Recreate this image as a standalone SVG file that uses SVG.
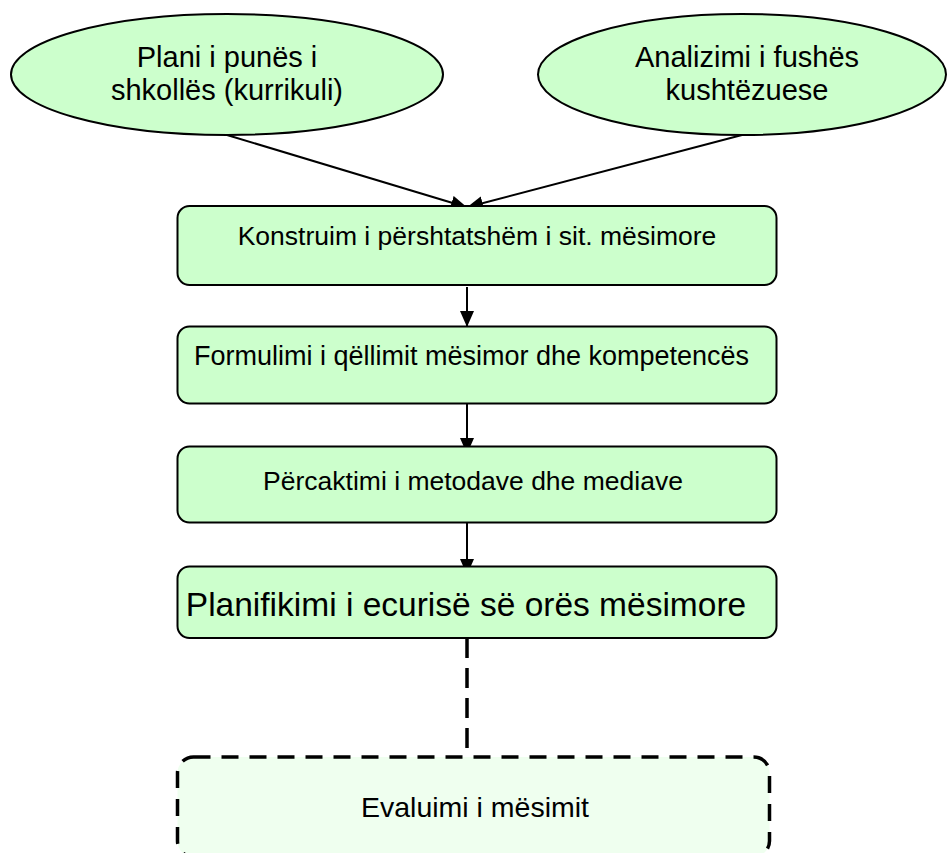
<svg xmlns="http://www.w3.org/2000/svg" width="949" height="853" viewBox="0 0 949 853">
<style>
.n{fill:#CCFFCC;stroke:#000;stroke-width:2}
.t{font-family:"Liberation Sans",Arial,sans-serif;fill:#000;text-anchor:middle}
.c{stroke:#000;stroke-width:2;fill:none}
.d{stroke:#000;stroke-width:3.5;fill:none;stroke-dasharray:17 11}
</style>
<defs>
<marker id="ah" markerWidth="16" markerHeight="14" refX="15" refY="7" orient="auto" markerUnits="userSpaceOnUse">
<path d="M0,0 L16,7 L0,14 z" fill="#000"/>
</marker>
</defs>
<rect width="949" height="853" fill="#fff"/>
<g id="connectors">
<line class="c" x1="227" y1="135" x2="466" y2="207" marker-end="url(#ah)"/>
<line class="c" x1="742" y1="135" x2="468" y2="207" marker-end="url(#ah)"/>
<line class="c" x1="467" y1="287" x2="467" y2="326" marker-end="url(#ah)"/>
<line class="c" x1="467" y1="398" x2="467" y2="453" marker-end="url(#ah)"/>
<line class="c" x1="467" y1="517" x2="467" y2="574" marker-end="url(#ah)"/>
<line class="d" x1="467" y1="638" x2="467" y2="770" style="stroke-dasharray:20 10"/>
</g>
<g id="n1">
<ellipse class="n" cx="227" cy="74.5" rx="216" ry="60.5"/>
<text class="t" x="227" y="67" font-size="29">Plani i punës i</text>
<text class="t" x="227" y="100" font-size="29">shkollës (kurrikuli)</text>
</g>
<g id="n2">
<ellipse class="n" cx="742" cy="74.5" rx="204" ry="60.5"/>
<text class="t" x="747" y="67" font-size="29">Analizimi i fushës</text>
<text class="t" x="747" y="100" font-size="29">kushtëzuese</text>
</g>
<g id="n3">
<rect class="n" x="177.5" y="206" width="599" height="79" rx="12"/>
<text class="t" x="477" y="245" font-size="26.5">Konstruim i përshtatshëm i sit. mësimore</text>
</g>
<g id="n4">
<rect class="n" x="177.5" y="326.5" width="599" height="77" rx="12"/>
<text class="t" x="471.5" y="365" font-size="27">Formulimi i qëllimit mësimor dhe kompetencës</text>
</g>
<g id="n5">
<rect class="n" x="177.5" y="446.5" width="599" height="76" rx="12"/>
<text class="t" x="473" y="490" font-size="26.5">Përcaktimi i metodave dhe mediave</text>
</g>
<g id="n6">
<rect class="n" x="177.5" y="566.5" width="599" height="71.5" rx="12"/>
<text class="t" x="466" y="616" font-size="33.5">Planifikimi i ecurisë së orës mësimore</text>
</g>
<g id="n7">
<rect x="177.5" y="757" width="592" height="100" rx="16" fill="#EFFFEF" stroke="none"/>
<rect class="d" x="177.5" y="757" width="592" height="100" rx="16"/>
<text class="t" x="475" y="817" font-size="28.5">Evaluimi i mësimit</text>
</g>
</svg>
